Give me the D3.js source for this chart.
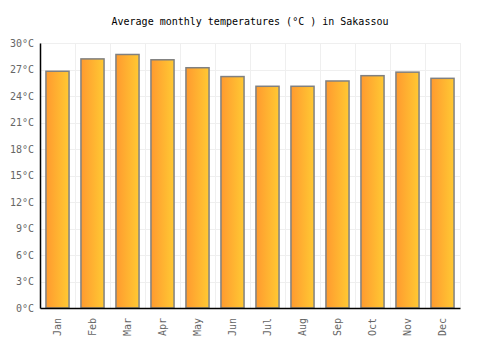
<!DOCTYPE html>
<html>
<head>
<meta charset="utf-8">
<script src="https://cdn.jsdelivr.net/npm/d3@7"></script>
<style>
  body { margin: 0; background: #fff; }
</style>
</head>
<body>
<div id="chart"></div>
<script>
// Month names on the x axis.
const months = ["Jan", "Feb", "Mar", "Apr", "May", "Jun", "Jul", "Aug", "Sep", "Oct", "Nov", "Dec"];
// Average temperature per month, in °C.
const temps = [26.8, 28.2, 28.7, 28.1, 27.2, 26.2, 25.1, 25.1, 25.7, 26.3, 26.7, 26.0];
// Values shown on the y axis.
const yTicks = [0, 3, 6, 9, 12, 15, 18, 21, 24, 27, 30];

const w = 500, h = 350;
const plotLeft = 40, plotRight = 460, plotTop = 43, plotBottom = 308;
const font = "'DejaVu Sans Mono', monospace";

const svg = d3.select("#chart")
    .append("svg")
    .attr("width", w)
    .attr("height", h);

const defs = svg.append("defs");
const grad = defs.append("linearGradient")
    .attr("id", "barFill")
    .attr("x1", "0%").attr("x2", "100%")
    .attr("y1", "0%").attr("y2", "0%");
grad.append("stop").attr("offset", "0%").attr("stop-color", "#ff9a2f");
grad.append("stop").attr("offset", "100%").attr("stop-color", "#ffc933");

const xScale = d3.scaleBand()
    .domain(months)
    .range([plotLeft, plotRight])
    .paddingInner(0.34)
    .paddingOuter(0.17);

const yScale = d3.scaleLinear()
    .domain([0, 30])
    .range([plotBottom, plotTop]);

// Horizontal grid lines.
svg.append("g")
    .selectAll("line")
    .data(yTicks)
    .enter()
    .append("line")
    .attr("x1", plotLeft)
    .attr("x2", plotRight)
    .attr("y1", d => Math.round(yScale(d)) + 0.5)
    .attr("y2", d => Math.round(yScale(d)) + 0.5)
    .attr("stroke", "#efefef")
    .attr("stroke-width", 1);

// Vertical grid lines on the band edges.
const step = (plotRight - plotLeft) / months.length;
svg.append("g")
    .selectAll("line")
    .data(d3.range(months.length + 1))
    .enter()
    .append("line")
    .attr("x1", i => Math.round(plotLeft + i * step) + 0.5)
    .attr("x2", i => Math.round(plotLeft + i * step) + 0.5)
    .attr("y1", plotTop)
    .attr("y2", plotBottom)
    .attr("stroke", "#efefef")
    .attr("stroke-width", 1);

// Bars.
svg.append("g")
    .selectAll("rect")
    .data(temps)
    .enter()
    .append("rect")
    .attr("x", (d, i) => xScale(months[i]))
    .attr("y", d => yScale(d))
    .attr("width", xScale.bandwidth())
    .attr("height", d => plotBottom - yScale(d))
    .attr("fill", "url(#barFill)")
    .attr("stroke", "#808080")
    .attr("stroke-width", 1.5);

// Y axis.
const yAxis = svg.append("g")
    .attr("transform", `translate(${plotLeft},0)`)
    .call(d3.axisLeft(yScale).tickValues(yTicks).tickSize(0).tickPadding(6).tickFormat(d => d + "°C"));
yAxis.select(".domain").attr("stroke", "#000").attr("stroke-width", 1.5);
yAxis.selectAll("text")
    .attr("fill", "#666")
    .attr("font-family", font)
    .attr("font-size", "10px");

// X axis.
const xAxis = svg.append("g")
    .attr("transform", `translate(0,${plotBottom})`)
    .call(d3.axisBottom(xScale).tickSize(0).tickPadding(0));
xAxis.select(".domain").attr("stroke", "#000").attr("stroke-width", 1.5);
xAxis.selectAll("text")
    .attr("fill", "#666")
    .attr("font-family", font)
    .attr("font-size", "10px")
    .attr("text-anchor", "end")
    .attr("dy", "0.35em")
    .attr("transform", "translate(0,10) rotate(-90)");

// Title.
svg.append("text")
    .attr("x", w / 2)
    .attr("y", 25)
    .attr("text-anchor", "middle")
    .attr("font-family", font)
    .attr("font-size", "10px")
    .attr("fill", "#000")
    .text("Average monthly temperatures (°C ) in Sakassou");
</script>
</body>
</html>
